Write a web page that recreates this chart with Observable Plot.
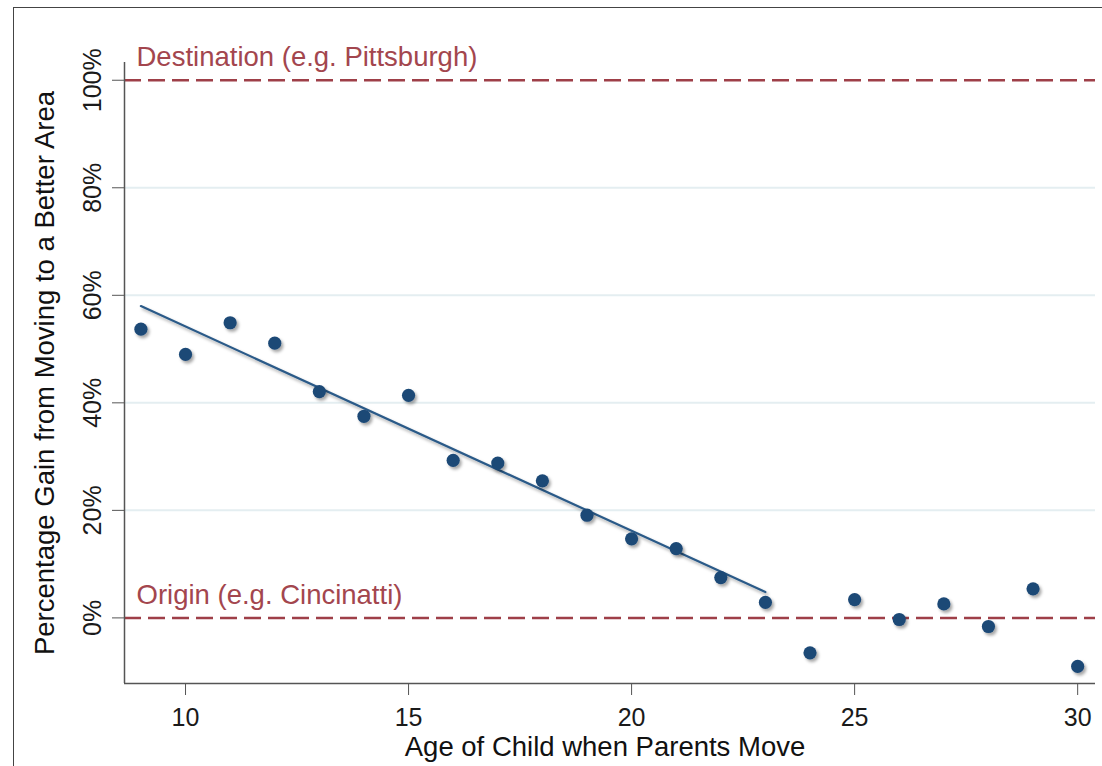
<!DOCTYPE html>
<html>
<head>
<meta charset="utf-8">
<script src="https://cdn.jsdelivr.net/npm/d3@7"></script>
<script src="https://cdn.jsdelivr.net/npm/@observablehq/plot@0.6"></script>
<style>
  html, body { margin: 0; padding: 0; background: #fff; }
  #wrap { position: relative; width: 1102px; height: 766px; overflow: hidden; }
  #frame { position: absolute; left: 13px; top: 7px; width: 1100px; height: 770px;
           border-left: 1.5px solid #444; border-top: 1.5px solid #444; box-sizing: border-box; }
  #chart { position: absolute; left: 0; top: 0; }
</style>
</head>
<body>
<div id="wrap"><div id="frame"></div><div id="chart"></div></div>
<script>
// Data
const ages  = [9, 10, 11, 12, 13, 14, 15, 16, 17, 18, 19, 20, 21, 22, 23, 24, 25, 26, 27, 28, 29, 30];
const gains = [53.7, 49.0, 54.9, 51.1, 42.1, 37.5, 41.4, 29.3, 28.8, 25.5, 19.1, 14.7, 12.9, 7.5, 2.9, -6.5, 3.4, -0.3, 2.6, -1.6, 5.4, -9.0];
const fitAges  = [9, 23];
const fitGains = [58.0, 4.8];
const refValues = [100, 0];
const refLabels = ["Destination (e.g. Pittsburgh)", "Origin (e.g. Cincinatti)"];
const yTicks = [0, 20, 40, 60, 80, 100];
const gridTicks = [20, 40, 60, 80];
const xTicks = [10, 15, 20, 25, 30];
const xTitle = "Age of Child when Parents Move";
const yTitle = "Percentage Gain from Moving to a Better Area";
const xDomain = [8.632, 30.4];
const yDomain = [-12.2, 103.3];

const points = ages.map((a, i) => ({age: a, gain: gains[i]}));
const fit = fitAges.map((a, i) => ({age: a, gain: fitGains[i]}));
const refs = refValues.map((v, i) => ({value: v, label: refLabels[i]}));

const font = "'Liberation Sans', Arial, sans-serif";
const dotColor = "#1b4876";
const red = "#9e3f48";

const chart = Plot.plot({
  width: 1102,
  height: 766,
  marginLeft: 124,
  marginTop: 62,
  marginRight: 7,
  marginBottom: 83,
  x: {domain: xDomain},
  y: {domain: yDomain},
  style: {fontFamily: font, background: "transparent", color: "#111"},
  marks: [
    Plot.gridY(gridTicks, {stroke: "#e4eef1", strokeOpacity: 1, strokeWidth: 2}),
    Plot.ruleY(refs, {y: "value", stroke: red, strokeWidth: 2.5, strokeDasharray: "17,7"}),
    Plot.text(refs, {y: "value", text: "label", frameAnchor: "left", dx: 12, dy: -14,
      textAnchor: "start", lineAnchor: "bottom", fontSize: 27.5, fill: "#a3464e"}),
    Plot.ruleX([xDomain[0]], {stroke: "#555", strokeWidth: 1.5}),
    Plot.ruleY([yDomain[0]], {stroke: "#555", strokeWidth: 1.5}),
    Plot.axisY(yTicks, {tickSize: 12, tickPadding: 12, tickRotate: -90, textAnchor: "middle",
      lineAnchor: "bottom", fontSize: 25, tickFormat: d => d + "%", label: null,
      stroke: "#555", fill: "#1a1a1a"}),
    Plot.axisX(xTicks, {tickSize: 12, tickPadding: 13, fontSize: 25, label: null,
      stroke: "#555", fill: "#1a1a1a"}),
    Plot.text([yTitle], {frameAnchor: "left", rotate: -90, dx: -71, lineAnchor: "bottom",
      textAnchor: "middle", fontSize: 27.5, fill: "#111"}),
    Plot.text([xTitle], {frameAnchor: "bottom", dy: 72, dx: -5, lineAnchor: "bottom",
      textAnchor: "middle", fontSize: 27.5, fill: "#111"}),
    Plot.line(fit, {x: "age", y: "gain", stroke: "#2b5a88", strokeWidth: 2.2}),
    Plot.dot(points, {x: "age", y: "gain", r: 6.6, fill: dotColor, stroke: "none"})
  ]
});

// soft drop shadow like the reference
const svg = d3.select(chart);
const defs = svg.insert("defs", ":first-child");
const f = defs.append("filter").attr("id", "sh")
  .attr("x", "-50%").attr("y", "-50%").attr("width", "200%").attr("height", "200%");
f.append("feDropShadow").attr("dx", 2).attr("dy", 2.5).attr("stdDeviation", 1.6)
  .attr("flood-color", "#000").attr("flood-opacity", 0.35);
svg.selectAll('g[aria-label="dot"], g[aria-label="line"]').attr("filter", "url(#sh)");

document.getElementById("chart").appendChild(chart);
</script>
</body>
</html>
